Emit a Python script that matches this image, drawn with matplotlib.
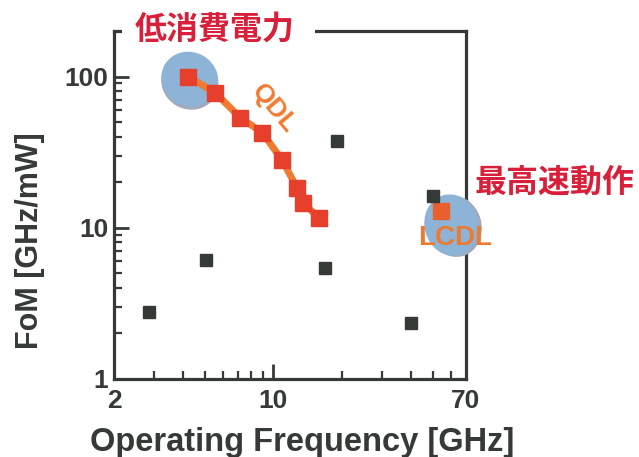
import matplotlib
matplotlib.use("Agg")
import matplotlib.pyplot as plt
from matplotlib.patches import Ellipse, Rectangle
from matplotlib.transforms import ScaledTranslation
from matplotlib.ticker import FixedLocator, NullFormatter, FixedFormatter

plt.rcParams['font.family'] = ['Liberation Sans', 'Noto Sans CJK JP', 'DejaVu Sans']
plt.rcParams['font.weight'] = 'bold'

# QDL series (red squares joined by line)
qdl_freq = [4.23, 5.56, 7.16, 8.94, 10.9, 12.7, 13.5, 15.9]
qdl_fom = [100, 78, 53.5, 42.6, 28.2, 18.4, 14.6, 11.6]
# LCDL point
lcdl_freq = [54.2]
lcdl_fom = [13.0]
# other works (dark squares)
other_freq = [19.1, 5.07, 2.85, 16.9, 40.0, 50.0]
other_fom = [37.7, 6.14, 2.78, 5.43, 2.35, 16.3]
# highlight ellipse centres
hl_freq = [4.3, 60.5]
hl_fom = [96.0, 10.4]

xticks = [2, 10, 70]
xticklabels = ['2', '10', '70']
yticks = [1, 10, 100]
yticklabels = ['1', '10', '100']

dark = '#353a37'
red = '#e6402c'
orange = '#f07a30'
blue = '#8db4d6'
labelred = '#d8203a'

fig = plt.figure(figsize=(6.39, 4.57), dpi=100)
ax = fig.add_axes([114/639, 1-379/457, 352/639, 348/457])
ax.set_xscale('log')
ax.set_yscale('log')
ax.set_xlim(2, 70)
ax.set_ylim(1, 200)

for s in ax.spines.values():
    s.set_linewidth(2.3)
    s.set_color(dark)

ax.xaxis.set_major_locator(FixedLocator(xticks))
ax.xaxis.set_major_formatter(FixedFormatter(xticklabels))
ax.xaxis.set_minor_locator(FixedLocator([3, 4, 5, 6, 7, 8, 9, 20, 30, 40, 50, 60]))
ax.xaxis.set_minor_formatter(NullFormatter())
ax.yaxis.set_major_locator(FixedLocator(yticks))
ax.yaxis.set_major_formatter(FixedFormatter(yticklabels))
ax.yaxis.set_minor_locator(FixedLocator([2, 3, 4, 5, 6, 7, 8, 9, 20, 30, 40, 50, 60, 70, 80, 90]))
ax.yaxis.set_minor_formatter(NullFormatter())
ax.tick_params(which='major', direction='in', length=11, width=2, color=dark,
               labelsize=19, labelcolor=dark)
ax.tick_params(which='minor', direction='in', length=6, width=1.6, color=dark)
ax.tick_params(axis='x', which='major', pad=7)
ax.tick_params(axis='y', which='major', pad=4)
for lab in ax.get_xticklabels() + ax.get_yticklabels():
    lab.set_fontweight('bold')

# highlight ellipses (sized in inches around data centres)
ell_w = [0.58, 0.54]
ell_h = [0.54, 0.62]
ell_ang = [-30, 15]
ell_shadow = [(0.0, -0.03), (0.03, -0.01)]
for fx, fy, w, h, a, (dx, dy) in zip(hl_freq, hl_fom, ell_w, ell_h, ell_ang, ell_shadow):
    tr_sh = (fig.dpi_scale_trans + ScaledTranslation(fx, fy, ax.transData)
             + ScaledTranslation(dx, dy, fig.dpi_scale_trans))
    ax.add_patch(Ellipse((0, 0), w, h, angle=a, transform=tr_sh,
                         facecolor='#a3a9ba', edgecolor='none', zorder=3, clip_on=False))
    tr = fig.dpi_scale_trans + ScaledTranslation(fx, fy, ax.transData)
    ax.add_patch(Ellipse((0, 0), w, h, angle=a, transform=tr,
                         facecolor=blue, edgecolor='none', zorder=3.1, clip_on=False))

# gap in top spine behind the title label
ax.add_patch(Rectangle((0.023, 0.985), 0.548, 0.03, transform=ax.transAxes,
                       facecolor='white', edgecolor='none', zorder=2.6, clip_on=False))

ax.plot(qdl_freq, qdl_fom, color=orange, lw=5, zorder=4, solid_capstyle='butt')
ax.plot(qdl_freq, qdl_fom, 's', color=red, ms=11, mec=red, zorder=5)
ax.plot(lcdl_freq, lcdl_fom, 's', color='#e8602e', ms=11, mec='#e8602e', zorder=5)
ax.plot(other_freq, other_fom, 's', color=dark, ms=8.5, mec=dark, zorder=5, clip_on=False)

ax.text(0.455, 0.776, 'QDL', transform=ax.transAxes, rotation=-50, color=orange,
        fontsize=19, fontweight='bold', ha='center', va='center', zorder=6)
ax.text(0.969, 0.405, 'LCDL', transform=ax.transAxes, color='#ee7a32',
        fontsize=20, fontweight='bold', ha='center', va='center', zorder=6, clip_on=False)

fig.text(215/639, 1-30/457, '低消費電力', color=labelred, fontsize=23, fontweight='bold',
         ha='center', va='center', family=['Noto Sans CJK JP', 'DejaVu Sans'])
fig.text(555/639, 1-183/457, '最高速動作', color=labelred, fontsize=23, fontweight='bold',
         ha='center', va='center', family=['Noto Sans CJK JP', 'DejaVu Sans'])

fig.text(302/639, 1-451/457, 'Operating Frequency [GHz]', color=dark, fontsize=23.5,
         fontweight='bold', ha='center', va='baseline')
fig.text(30/639, 1-241/457, 'FoM [GHz/mW]', color=dark, fontsize=22,
         fontweight='bold', ha='center', va='center', rotation=90)

fig.savefig('out.png', dpi=100)
